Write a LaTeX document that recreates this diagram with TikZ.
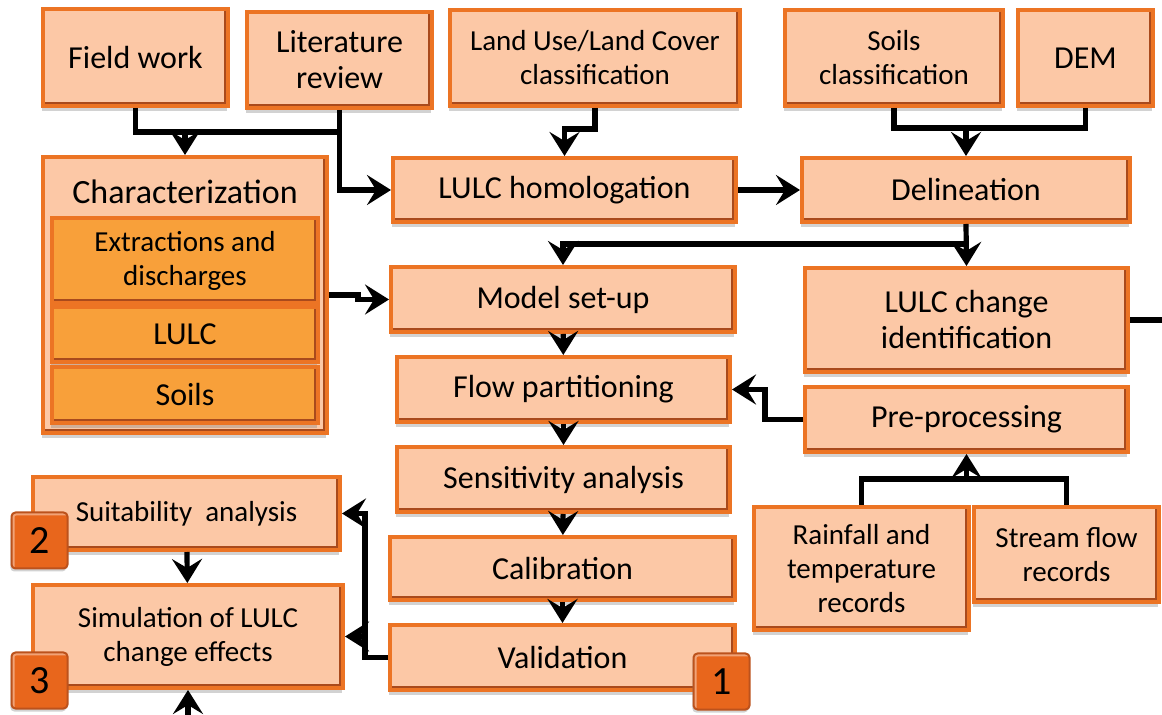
\documentclass[tikz,border=0pt]{standalone}
\usepackage{fontspec}
\setmainfont{Carlito}
\usepackage{tikz}
\usetikzlibrary{calc, arrows.meta, shadows}
\definecolor{peachFill}{HTML}{FCC8A6}
\definecolor{edgeOrange}{HTML}{EC7424}
\definecolor{edgeDark}{HTML}{A94A1C}
\definecolor{subOrange}{HTML}{F8A03A}
\definecolor{badgeOrange}{HTML}{E8661C}
\tikzset{
  sz/.style 2 args = {minimum width=#1*0.5pt, minimum height=#2*0.5pt},
  box/.style    = {draw=edgeOrange, fill=peachFill, line width=2pt, align=center,
                   inner sep=2pt, font=\fontsize{16}{18}\selectfont,
                   drop shadow={shadow xshift=-0.6pt, shadow yshift=-2.5pt, opacity=.35},
                   path picture={\draw[edgeDark, line width=4pt]
                     (path picture bounding box.south west) -- (path picture bounding box.south east)
                     -- (path picture bounding box.north east);}},
  small/.style  = {font=\fontsize{14.5}{17}\selectfont},
  subbox/.style = {fill=subOrange},
  badge/.style  = {draw=edgeDark!70!badgeOrange, fill=badgeOrange, line width=1pt,
                   rounded corners=2pt, minimum size=28pt, inner sep=0pt,
                   font=\fontsize{20}{20}\selectfont,
                   drop shadow={shadow xshift=-0.6pt, shadow yshift=-1.5pt, opacity=.35},
                   path picture={\draw[badgeOrange!60!white, line width=3pt]
                     (path picture bounding box.south west) -- (path picture bounding box.north west)
                     -- (path picture bounding box.north east);}},
  ln/.style     = {draw=black, line width=2.6pt},
  fl/.style     = {ln, -{Stealth[length=12pt, width=15pt, inset=4.5pt]}}
}
\begin{document}
\begin{tikzpicture}[x={(0.5pt,0)}, y={(0,-0.5pt)}]
  \useasboundingbox (0,0) rectangle (1162,715);
  \clip (0,0) rectangle (1162,715);
  \fill[white] (0,0) rectangle (1162,715);

  % inputs
  \node[box, sz={185}{97}] (field) at (135.5,57.5) {Field work};
  \node[box, sz={185}{96}] (lit) at (339.5,60) {Literature\\ review};
  \node[box, small, sz={290}{96}] (lucl) at (595,58) {Land Use/Land Cover\\ classification};
  \node[box, small, sz={218}{96}] (soilcl) at (894,58) {Soils\\ classification};
  \node[box, sz={135}{96}] (dem) at (1085.5,58) {DEM};

  % characterization
  \node[box, sz={284}{276}] (char) at (185,295) {};
  \node[font=\fontsize{17}{19}\selectfont] (chartitle) at (185,192) {Characterization};
  \node[box, subbox, small, sz={266}{85}] (extr) at (185,260.5) {Extractions and\\ discharges};
  \node[box, subbox, sz={266}{55}] (lulcin) at (185,334.5) {LULC};
  \node[box, subbox, sz={266}{56}] (soilin) at (185,395) {Soils};

  % model chain
  \node[box, sz={343}{64}] (homol) at (564.5,190) {LULC homologation};
  \node[box, sz={328}{64}] (delin) at (966,190) {Delineation};
  \node[box, sz={344}{65}] (model) at (563,299.5) {Model set-up};
  \node[box, sz={323}{104}] (lchg) at (966.5,320) {LULC change\\ identification};
  \node[box, sz={333}{65}] (flow) at (563.5,389.5) {Flow partitioning};
  \node[box, sz={323}{65}] (prep) at (966.5,419.5) {Pre-processing};
  \node[box, sz={333}{65}] (sens) at (563.5,479.5) {Sensitivity analysis};
  \node[box, sz={345}{63}] (calib) at (562.5,568.5) {Calibration};
  \node[box, sz={345}{65}] (valid) at (562.5,657.5) {Validation};

  % records
  \node[box, small, sz={215}{123}] (rain) at (861.5,568.5) {Rainfall and\\ temperature\\ records};
  \node[box, small, sz={185}{95}] (stream) at (1066.5,554.5) {Stream flow\\ records};

  % outputs
  \node[box, small, sz={307}{73}] (suit) at (186.5,513.5) {Suitability\ \ analysis};
  \node[box, small, sz={310}{103}] (simul) at (188,636.5) {Simulation of LULC\\ change effects};

  % step numbers
  \node[badge] (b1) at (721.5,681.5) {1};
  \node[badge] (b2) at (39.5,540.5) {2};
  \node[badge] (b3) at (39.5,680.5) {3};

  % connectors
  \coordinate (j1) at (185,132);
  \coordinate (j2) at (966,128);
  \coordinate (j3) at (966.5,479);
  \coordinate (j4) at (365,657.5);
  \draw[ln] (field.south) |- (j1) -| (lit.south);
  \draw[fl] (j1) -- (char.north);
  \draw[fl] (lit.south) |- (homol.west);
  \draw[fl] (lucl.south) -- ++(0,21) -| (homol.north);
  \draw[ln] (soilcl.south) |- (j2) -| (dem.south);
  \draw[fl] (j2) -- (delin.north);
  \draw[fl] (homol) -- (delin);
  \draw[fl] (delin.south) -- (lchg.north);
  \draw[fl] (delin.south |- 0,244) -| (model.north);
  \draw[fl] (char.east |- 0,295) -- (358,295) |- (model.west);
  \foreach \a/\b in {model/flow, flow/sens, sens/calib, calib/valid, suit/simul}
    \draw[fl] (\a) -- (\b);
  \draw[fl] (prep.west) -- ++(-38,0) |- (flow.east);
  \draw[ln] (rain.north) |- (j3) -| (stream.north);
  \draw[fl] (j3) -- (prep.south);
  \draw[fl] (valid.west) -- (j4) |- (suit.east);
  \draw[fl] (j4 |- simul.east) -- (simul.east);
  \draw[fl] (lchg.east) -| (1190,719) -| (simul.south);
\end{tikzpicture}
\end{document}
